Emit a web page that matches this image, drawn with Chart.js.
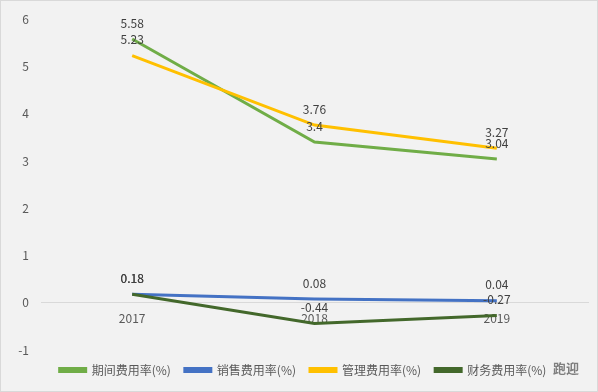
<!DOCTYPE html>
<html>
<head>
<meta charset="utf-8">
<script src="https://cdn.jsdelivr.net/npm/chart.js@4"></script>
<style>
  body { margin: 0; background: #f2f2f2; }
  #wrap { width: 598px; height: 392px; }
</style>
</head>
<body>
<div id="wrap"><canvas id="c" width="598" height="392"></canvas></div>
<script>
// data
const years = ["2017", "2018", "2019"];
const qijian = [5.58, 3.4, 3.04];
const xiaoshou = [0.18, 0.08, 0.04];
const guanli = [5.23, 3.76, 3.27];
const caiwu = [0.18, -0.44, -0.27];
const yTicks = [-1, 0, 1, 2, 3, 4, 5, 6];

const fontFam = '"Noto Sans CJK SC", "Noto Sans", sans-serif';

// background + frame
const bgPlugin = {
  id: "bg",
  beforeDraw(chart) {
    const ctx = chart.ctx;
    ctx.save();
    ctx.fillStyle = "#f2f2f2";
    ctx.fillRect(0, 0, chart.width, chart.height);
    ctx.strokeStyle = "#d9d9d9";
    ctx.lineWidth = 1;
    ctx.strokeRect(0.5, 0.5, chart.width - 1, chart.height - 1);
    ctx.restore();
  },
  afterDraw(chart) {
    // watermark
    const ctx = chart.ctx;
    ctx.save();
    ctx.font = "bold 13px " + fontFam;
    ctx.fillStyle = "#7f7f7f";
    ctx.textAlign = "left";
    ctx.textBaseline = "middle";
    ctx.fillText("跑迎", 553, 368);
    ctx.restore();
  }
};

// value labels above each point
const labelPlugin = {
  id: "vlabels",
  afterDatasetsDraw(chart) {
    const ctx = chart.ctx;
    ctx.save();
    ctx.font = "12px " + fontFam;
    ctx.fillStyle = "#404040";
    ctx.textAlign = "center";
    ctx.textBaseline = "middle";
    chart.data.datasets.forEach((ds, i) => {
      const meta = chart.getDatasetMeta(i);
      meta.data.forEach((pt, j) => {
        ctx.fillText(String(ds.data[j]), pt.x, pt.y - 16);
      });
    });
    ctx.restore();
  }
};

function line(label, data, color, order) {
  return {
    label: label,
    data: data,
    borderColor: color,
    backgroundColor: color,
    borderWidth: 3,
    pointRadius: 0,
    tension: 0,
    fill: false,
    order: order
  };
}

new Chart(document.getElementById("c"), {
  type: "line",
  data: {
    labels: years,
    datasets: [
      line("期间费用率(%)", qijian, "#70ad47", 4),
      line("销售费用率(%)", xiaoshou, "#4472c4", 3),
      line("管理费用率(%)", guanli, "#ffc000", 2),
      line("财务费用率(%)", caiwu, "#43682b", 1)
    ]
  },
  options: {
    responsive: false,
    animation: false,
    layout: { padding: { top: 13, right: 10, bottom: 6, left: 18 } },
    plugins: {
      tooltip: { enabled: false },
      legend: {
        position: "bottom",
        reverse: true,
        labels: {
          boxWidth: 26,
          boxHeight: 3,
          padding: 14,
          color: "#595959",
          font: { family: fontFam, size: 12 }
        }
      }
    },
    scales: {
      x: {
        type: "category",
        offset: true,
        position: { y: 0 },
        grid: { display: false, drawTicks: false },
        border: { display: true, color: "#d9d9d9", width: 1 },
        ticks: {
          padding: 8,
          color: "#595959",
          font: { family: fontFam, size: 12 },
          maxRotation: 0
        }
      },
      y: {
        min: -1,
        max: 6,
        afterBuildTicks(scale) {
          scale.ticks = yTicks.map(v => ({ value: v }));
        },
        afterFit(scale) { scale.width = 23; },
        grid: { display: false, drawTicks: false },
        border: { display: false },
        ticks: {
          padding: 12,
          color: "#595959",
          font: { family: fontFam, size: 12 }
        }
      }
    }
  },
  plugins: [bgPlugin, labelPlugin]
});
</script>
</body>
</html>
